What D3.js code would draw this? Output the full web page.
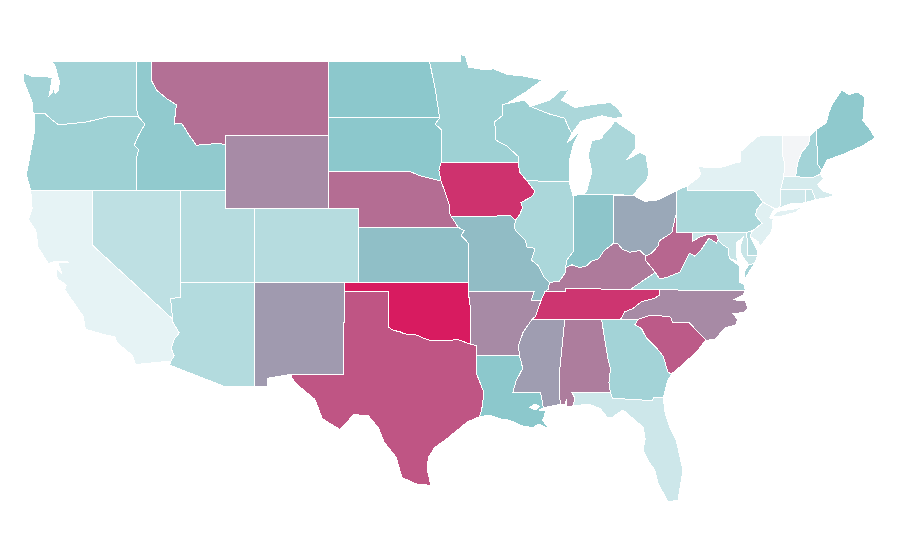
<!DOCTYPE html>
<html><head><meta charset="utf-8">
<script src="https://cdn.jsdelivr.net/npm/d3@7"></script>
<style>html,body{margin:0;padding:0;background:#fff}svg{display:block}</style></head>
<body><svg width="900" height="560"></svg>
<script>
// shared borders, as lon,lat
const mnWi="-92.02,46.71 -92.29,46.66 -92.29,46.07 -92.87,45.70 -92.75,45.30 -92.80,44.75 -92.0,44.40 -91.25,43.85 -91.22,43.50";
const iaWi="-91.22,43.50 -91.15,42.99 -90.64,42.51";
const iaIl="-90.64,42.51 -90.15,41.98 -90.18,41.81 -90.34,41.65 -91.05,41.33 -90.95,41.07 -91.11,40.70 -91.42,40.38";
const moIl="-91.42,40.38 -91.51,40.0 -91.43,39.84 -90.73,39.25 -90.67,38.92 -90.12,38.85 -90.18,38.6 -90.35,38.22 -89.85,37.88 -89.51,37.3 -89.13,36.98";
const arTn="-89.70,36.0 -90.07,35.13 -90.3,35.0";
const arMs="-90.3,35.0 -90.55,34.7 -90.9,34.3 -91.2,33.6 -91.17,33.0";
const laMs="-91.17,33.0 -91.0,32.6 -90.95,32.3 -91.4,31.6 -91.6,31.0 -89.73,31.0 -89.53,30.18";
const ilKy="-89.13,36.98 -88.45,37.07 -88.07,37.5 -88.03,37.8";
const inKy="-88.03,37.8 -87.6,37.95 -87.1,37.8 -86.6,37.9 -86.3,38.15 -85.8,38.27 -85.42,38.73 -84.82,39.1";
const ohKy="-84.82,39.1 -84.5,39.1 -84.2,38.8 -83.7,38.63 -83.0,38.73 -82.6,38.42";
const ohWv="-82.6,38.42 -82.2,38.6 -81.75,39.0 -81.7,39.25 -80.85,39.7 -80.6,40.6 -80.52,40.64";
const vaWv="-77.72,39.32 -77.83,39.13 -78.35,39.4 -78.87,38.76 -79.3,38.42 -79.65,38.58 -80.3,37.55 -81.25,37.25 -81.68,37.2 -81.97,37.54";
const mdWv="-79.48,39.2 -79.0,39.45 -78.4,39.62 -77.83,39.6 -77.72,39.32";
const kyWv="-81.97,37.54 -82.6,38.17 -82.6,38.42";
const tnKy="-83.68,36.6 -88.07,36.68 -88.07,36.5 -89.42,36.5";
const tnNc="-81.68,36.59 -81.7,36.3 -82.05,36.12 -82.9,35.95 -83.5,35.57 -84.02,35.4 -84.32,34.99";
const ncSc="-78.55,33.86 -79.67,34.8 -80.8,34.82 -80.93,35.1 -81.05,35.15 -82.35,35.2 -83.11,35.0";
const scGa="-83.11,35.0 -83.35,34.7 -82.9,34.48 -82.55,33.95 -81.9,33.45 -81.45,33.0 -81.1,32.1 -80.87,32.03";
const gaCoast="-80.87,32.03 -81.15,31.6 -81.43,30.72";
const gaFl="-81.43,30.72 -82.05,30.75 -82.2,30.57 -84.86,30.7";
const gaAl="-84.86,30.7 -85.0,31.0 -85.1,31.55 -85.0,32.3 -85.18,32.87 -85.6,34.98";
const flAl="-85.0,31.0 -87.6,31.0 -87.4,30.7 -87.52,30.28";
const alMs="-88.2,35.0 -88.1,34.9 -88.47,31.9 -88.4,30.37";
const txLa="-93.85,29.7 -93.7,30.1 -93.55,31.0 -94.04,32.0 -94.04,33.02";
const txAr="-94.04,33.02 -94.04,33.55 -94.48,33.64";
const okAr="-94.48,33.64 -94.43,35.4 -94.62,36.5";
const redRiver="-94.48,33.64 -95.3,33.88 -96.0,33.85 -96.6,33.85 -97.2,33.85 -97.7,33.98 -98.1,34.13 -98.95,34.2 -99.2,34.3 -99.7,34.4 -100.0,34.56 -100.0,36.5 -103.0,36.5";
const azCa="-114.6,35.0 -114.6,34.85 -114.15,34.25 -114.5,33.9 -114.7,33.4 -114.5,33.0 -114.72,32.72";
const nvAz="-114.05,37.0 -114.05,36.2 -114.74,36.1 -114.6,35.0";
const orId="-117.03,42.0 -117.03,43.8 -116.9,44.2 -117.2,44.45 -116.9,45.0 -116.47,45.6 -116.92,46.0";
const orWa="-116.92,46.0 -118.98,46.0 -119.3,45.93 -120.5,45.7 -121.2,45.65 -122.3,45.55 -122.8,45.85 -123.2,46.15 -123.95,46.2";
const idMt="-116.05,49.0 -116.05,48.0 -115.7,47.45 -114.95,46.95 -114.35,46.65 -114.5,45.6 -114.0,45.65 -113.45,44.95 -113.0,44.45 -111.5,44.55 -111.05,44.48";
const neIa="-96.45,42.5 -96.1,41.7 -95.9,41.2 -95.85,40.7 -95.77,40.58";
const sdMn="-96.45,43.5 -96.45,45.3 -96.85,45.6 -96.55,45.94";
const sdNe="-96.45,42.5 -97.9,42.8 -98.5,43.0 -104.05,43.0";
const ksMo="-95.3,40.0 -94.9,39.8 -95.1,39.55 -94.6,39.12 -94.62,37.0";
const wiUp="-90.4,46.55 -89.1,46.14 -88.1,45.92 -87.8,45.35 -87.6,45.1";
const nyPa="-75.35,42.0 -75.05,41.75 -74.7,41.36";
const njPa="-74.7,41.36 -75.1,40.95 -75.2,40.65 -74.75,40.2 -75.4,39.8";
const vtNh="-71.5,45.0 -71.6,44.5 -72.05,44.1 -72.3,43.6 -72.45,43.0 -72.46,42.73";
const vtNy="-73.35,45.0 -73.4,44.0 -73.25,43.55 -73.27,42.75";
const maNh="-72.46,42.73 -71.3,42.7 -70.82,42.87";
const nhMe="-71.08,45.3 -70.98,43.4 -70.7,43.07";
const nyMa="-73.27,42.75 -73.5,42.05";
const ctMa="-73.5,42.05 -71.8,42.02";
const ctRi="-71.8,42.02 -71.85,41.32";
const mdVa="-76.95,38.3 -77.05,38.7 -77.05,38.85 -77.5,39.1 -77.72,39.32";
const rev=s=>s.split(" ").reverse().join(" ");

const stateNames=["WA","OR","CA","NV","ID","MT","WY","UT","AZ","NM","CO","ND","SD","NE","KS","OK","TX","MN","IA","MO","AR","LA","WI","IL","MI","IN","OH","KY","TN","MS","AL","GA","FL","SC","NC","VA","WV","MD","DE","PA","NJ","NY","CT","RI","MA","VT","NH","ME"];
const stateValues=[31,33,5.4,20.8,38,70.5,61,24,25,56,24,40,40,71.5,43,100,80,33,92,44,61.5,40,33,28,28,41,51,67,91,55,66,31,15,78,61.5,30,74,17,23,28,7.7,7,14,17,12,0.5,31,39];
const stateShapes=[
 [`-117.04,49.0 -122.76,49.0 -122.55,48.75 -122.4,48.3 -122.25,47.9 -122.35,47.4 -122.55,47.25 -122.6,47.7 -122.75,47.3 -122.95,47.15 -122.85,47.6 -122.75,48.1 -123.1,48.18 -124.0,48.17 -124.72,48.38 -124.65,47.9 -124.2,47.0 -124.05,46.65 -124.05,46.25 ${rev(orWa)} -117.04,46.42`],
 [`-124.2,42.0 ${orId} ${orWa} -123.95,45.2 -124.05,44.7 -124.5,42.85`],
 [`-124.2,42.0 -120.0,42.0 -120.0,39.0 ${azCa} -117.12,32.53 -117.3,33.0 -118.4,33.75 -118.5,34.03 -119.2,34.15 -120.5,34.45 -120.65,35.15 -121.9,36.6 -121.8,36.85 -122.4,37.2 -122.5,37.75 -122.1,37.5 -122.35,38.05 -121.6,38.1 -122.55,38.15 -123.0,38.0 -123.7,38.9 -123.85,39.8 -124.35,40.4 -124.1,41.0`],
 [`-120.0,42.0 -114.04,42.0 ${nvAz} -120.0,39.0`],
 [`-117.04,49.0 ${idMt} -111.05,42.0 ${orId} -117.04,46.42`],
 [`-116.05,49.0 -104.05,49.0 -104.05,45.0 -111.05,45.0 ${rev(idMt)}`],
 [`-111.05,45.0 -104.05,45.0 -104.05,41.0 -111.05,41.0`],
 [`-114.04,42.0 -111.05,42.0 -111.05,41.0 -109.05,41.0 -109.05,37.0 -114.05,37.0`],
 [`-109.05,37.0 ${nvAz} ${azCa} -114.81,32.5 -111.07,31.33 -109.05,31.33`],
 [`-109.05,37.0 -103.0,37.0 -103.0,36.5 -103.04,32.0 -106.62,32.0 -108.2,31.78 -108.2,31.33 -109.05,31.33`],
 [`-109.05,41.0 -102.05,41.0 -102.05,37.0 -109.05,37.0`],
 [`-104.05,49.0 -97.23,49.0 -96.85,47.5 -96.55,45.94 -104.05,45.94`],
 [`-104.05,45.94 -96.55,45.94 ${rev(sdMn)} -96.6,43.1 ${sdNe}`],
 [`-104.05,43.0 -98.5,43.0 -97.9,42.8 ${neIa} -95.3,40.0 -102.05,40.0 -102.05,41.0 -104.05,41.0`],
 [`-102.05,40.0 ${ksMo} -102.05,37.0`],
 [`-103.0,37.0 -94.62,37.0 ${rev(okAr)} ${redRiver}`],
 [`${rev(redRiver)} ${rev(txAr)} ${rev(txLa)} -94.7,29.4 -95.0,29.2 -95.9,28.6 -96.9,28.0 -97.3,27.5 -97.4,26.9 -97.15,25.96 -98.2,26.05 -99.1,26.4 -99.5,27.5 -100.3,28.3 -100.7,29.1 -101.4,29.77 -102.4,29.8 -102.85,29.35 -103.3,29.0 -104.5,29.6 -104.7,30.05 -105.0,30.65 -106.2,31.45 -106.5,31.75 -106.62,32.0 -103.04,32.0`],
 [`-97.23,49.0 -95.15,49.0 -95.15,49.38 -94.8,49.3 -94.6,48.7 -93.5,48.55 -92.9,48.6 -92.0,48.3 -90.8,48.2 -89.6,48.0 -90.8,47.3 ${mnWi} -96.45,43.5 ${sdMn} -96.85,47.5`],
 [`-96.45,43.5 -91.22,43.5 ${iaWi} ${iaIl} -91.73,40.61 ${rev(neIa)} -96.6,43.1`],
 [`-95.77,40.58 -91.73,40.61 ${moIl} -89.2,36.63 -89.42,36.5 -89.70,36.0 -90.37,36.0 -90.15,36.5 -94.62,36.5 -94.62,37.0 ${rev(ksMo)}`],
 [`-94.62,36.5 -90.15,36.5 -90.37,36.0 ${arTn} ${arMs} -94.04,33.02 ${txAr} -94.43,35.4`],
 [`-94.04,33.02 ${laMs} -89.85,30.05 -89.4,30.05 -89.45,29.75 -89.6,29.5 -89.15,29.05 -89.9,29.3 -90.2,29.1 -91.0,29.2 -91.8,29.5 -92.3,29.55 -93.2,29.78 ${txLa}`,
  `-90.45,30.2 -90.1,30.38 -89.8,30.25 -90.1,30.05`],
 [`${mnWi} ${iaWi} -87.8,42.49 -87.75,43.7 -87.5,44.5 -87.05,45.25 -87.95,44.55 -87.6,45.1 ${rev(wiUp)} -90.8,46.9`],
 [`-90.64,42.51 -87.8,42.49 -87.53,41.7 -87.53,39.35 -87.5,38.7 -87.95,38.2 -88.03,37.8 ${rev(ilKy)} ${rev(moIl)} ${rev(iaIl)}`],
 [`-86.82,41.76 -84.8,41.76 -83.45,41.73 -83.1,42.1 -82.5,42.6 -82.42,43.0 -82.6,43.9 -83.0,44.07 -83.9,43.65 -83.3,44.3 -83.3,45.0 -84.7,45.78 -85.0,45.4 -85.5,45.0 -85.6,44.8 -86.25,44.7 -86.5,43.9 -86.25,43.0 -86.6,42.0`,
  `${wiUp} -87.0,45.75 -86.5,45.85 -85.6,46.05 -84.75,45.9 -84.1,46.0 -84.5,46.45 -85.0,46.77 -86.1,46.67 -87.4,46.5 -88.3,46.9 -87.8,47.47 -88.4,47.4 -89.1,46.9`,
  `-89.2,47.87 -88.5,48.15 -88.45,48.1 -89.1,47.85`],
 [`-87.53,41.7 -87.2,41.75 -86.82,41.76 -84.8,41.76 -84.82,39.1 ${rev(inKy)} -87.95,38.2 -87.5,38.7 -87.53,39.35`],
 [`-84.8,41.7 -83.45,41.73 -82.7,41.4 -82.0,41.45 -81.7,41.5 -80.52,41.98 ${rev(ohWv)} ${rev(ohKy)}`],
 [`${ilKy} ${inKy} ${ohKy} -82.6,38.17 -81.97,37.54 ${tnKy} -89.2,36.63`],
 [`-89.42,36.5 -88.07,36.5 -88.07,36.68 -83.68,36.6 ${tnNc} -90.3,35.0 -90.07,35.13 -89.70,36.0`],
 [`-90.3,35.0 ${alMs} -89.53,30.18 ${rev(laMs)} ${rev(arMs)}`],
 [`-88.2,35.0 -85.6,34.98 ${rev(gaAl)} ${flAl} -87.95,30.25 -87.95,30.65 -88.1,30.35 -88.4,30.37 ${rev(alMs)}`],
 [`-85.6,34.98 -84.32,34.99 ${scGa} ${gaCoast} ${gaFl} -85.0,31.0 -85.1,31.55 -85.0,32.3 -85.18,32.87`],
 [`${gaFl} ${flAl} -86.5,30.38 -85.7,30.15 -85.23,29.68 -84.9,29.65 -84.15,30.06 -83.4,29.55 -82.8,29.13 -82.65,28.5 -82.8,27.9 -82.45,27.3 -82.0,26.8 -81.8,26.1 -81.1,25.06 -80.43,25.17 -80.1,26.8 -80.55,28.4 -81.0,29.13 -81.3,29.85`],
 [`${ncSc} ${scGa} -80.45,32.3 -79.9,32.7 -79.2,33.2`],
 [`-81.68,36.59 -75.87,36.55 -76.05,36.3 -76.7,36.05 -75.9,36.0 -75.7,35.6 -76.0,35.35 -76.75,35.3 -76.4,35.0 -76.5,34.7 -77.3,34.5 -77.95,33.87 -78.55,33.86 -79.67,34.8 -80.8,34.82 -80.93,35.1 -81.05,35.15 -82.35,35.2 -83.11,35.0 -84.32,34.99 ${rev(tnNc)}`],
 [`-83.68,36.6 -81.68,36.59 -75.87,36.55 -76.0,36.93 -76.3,37.0 -76.3,37.55 -76.3,37.9 ${mdVa} ${vaWv}`,
  `-75.65,37.95 -75.25,38.03 -75.95,37.15 -75.95,37.55`],
 [`-82.6,38.42 ${ohWv} -80.52,39.72 -79.48,39.72 ${mdWv} ${vaWv} ${kyWv}`],
 [`-79.48,39.72 -75.79,39.72 -75.7,38.46 -75.05,38.45 -75.25,38.03 -75.65,37.95 -75.9,38.2 -76.2,38.6 -76.2,39.0 -76.0,39.5 -76.45,39.15 -76.5,38.5 -76.35,38.1 ${mdVa} ${rev(mdWv)}`],
 [`-75.79,39.72 -75.4,39.8 -75.55,39.5 -75.1,38.8 -75.05,38.45 -75.7,38.46`],
 [`-80.52,41.98 -79.76,42.27 -79.76,42.0 ${nyPa} ${njPa} -75.79,39.72 -80.52,39.72 -80.52,40.64`],
 [`${rev(njPa)} -73.9,41.0 -74.25,40.5 -74.0,40.45 -74.1,39.75 -74.9,38.93 -75.0,39.2 -75.55,39.5`],
 [`-79.76,42.27 -79.05,42.7 -78.9,42.9 -79.05,43.27 -77.5,43.25 -76.5,43.5 -76.2,43.55 -76.2,44.1 -75.1,44.9 -74.7,45.0 ${vtNy} ${nyMa} -73.49,41.2 -73.7,41.0 -73.9,41.0 -74.7,41.36 ${rev(nyPa)} -79.76,42.0`,
  `-74.0,40.6 -73.75,40.85 -72.6,40.98 -72.0,41.1 -72.5,40.8 -73.5,40.58`],
 [`${ctMa} ${ctRi} -72.9,41.25 -73.7,41.0 -73.49,41.2`],
 [`-71.8,42.02 -71.38,42.02 -71.12,41.5 -71.85,41.32`],
 [`${rev(nyMa)} ${maNh} -70.6,42.65 -71.0,42.3 -70.6,41.95 -70.0,41.8 -70.0,42.05 -69.95,41.68 -70.65,41.55 -71.12,41.5 -71.38,42.02 -71.8,42.02`],
 [`${vtNy} ${rev(vtNh)}`],
 [`${vtNh} ${maNh} ${rev(nhMe)}`],
 [`${nhMe} -70.35,43.65 -69.1,44.0 -68.6,44.2 -68.0,44.4 -67.1,44.85 -67.45,45.3 -67.93,45.8 -67.8,47.07 -68.3,47.35 -68.9,47.2 -69.35,47.45 -70.0,46.7 -70.25,46.2 -70.4,45.66`]
];
const colorStops=["#f4f5f7","#e6f3f5","#8cc8cc","#d81b60"];
const valueStops=[0,5.4,40,100];

const lonScale=d3.scaleLinear().domain([-109,-102]).range([255.5,359.03]);
const latScale=d3.scaleLinear().domain([49,45]).range([61.5,135.1]);
const color=d3.scaleLinear().domain(valueStops).range(colorStops);
const path=d3.geoPath(d3.geoTransform({point(x,y){this.stream.point(lonScale(x),latScale(y));}}));
const ring=s=>{const p=s.trim().split(/\s+/).map(q=>q.split(",").map(Number));p.push(p[0]);return p;};
const features=stateNames.map((name,i)=>({type:"Feature",properties:{name,value:stateValues[i]},
  geometry:{type:"MultiPolygon",coordinates:stateShapes[i].map(s=>[ring(s)])}}));
// Lake Pontchartrain is a hole in Louisiana
const la=features[stateNames.indexOf("LA")].geometry;
la.coordinates=[[la.coordinates[0][0],la.coordinates[1][0]]];

d3.select("svg").selectAll("path").data(features).join("path")
  .attr("d",path)
  .attr("fill",d=>color(d.properties.value))
  .attr("fill-rule","evenodd")
  .attr("stroke","#fff").attr("stroke-width",1)
  .attr("shape-rendering","crispEdges");
</script></body></html>
